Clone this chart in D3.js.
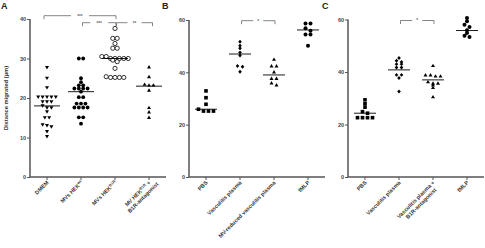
<!DOCTYPE html>
<html>
<head>
<meta charset="utf-8">
<script src="https://cdn.jsdelivr.net/npm/d3@7"></script>
<style>
  body { margin: 0; background: #fff; }
  text { font-family: "Liberation Sans", Arial, sans-serif; font-weight: bold; }
</style>
</head>
<body>
<script>
// ---- data ----
var catsA = ["DMEM", "MVs HEK|wt", "MVs HEK|B1R", "MV HEK|B1R| +\nB1R-antagonist"];
var dmem   = [27.7, 25, 22.6, 20.2, 20.2, 20.2, 20.2, 20.2, 19, 19, 19, 18, 17.5, 17.5, 16.5, 15, 15, 13.2, 13, 12.7, 11.5, 10.2];
var hekWt  = [30, 30, 25, 24, 23.2, 23.2, 22.4, 22.4, 22.4, 22.4, 21.6, 20.2, 20.2, 18.6, 18.6, 18.6, 17.6, 17.6, 17.6, 17.6, 15.1, 15.1, 13.5];
var hekB1r = [37.6, 35.1, 35.1, 33.8, 32.6, 32.6, 30.5, 30.5, 30, 30, 30, 30, 30, 29.6, 29.2, 27.5, 25.4, 25.2, 25.2, 25.2, 25.2];
var hekAnt = [27.9, 25.4, 23.3, 23.5, 23.3, 22, 17.6, 16.5, 15.1];
var medA   = [18, 21.6, 30, 23];

var catsB = ["PBS", "Vasculitis plasma", "MV-reduced vasculitis plasma", "fMLP"];
var pbsB   = [32.9, 30.3, 27.8, 25.2, 25.2, 25.2, 25.9];
var vascB  = [51.7, 50.2, 49.2, 47.6, 46.4, 42.4, 42.1, 40.2];
var mvRedB = [45, 42.5, 42.5, 40.2, 37.7, 37.7, 36, 35.2];
var fmlpB  = [58.7, 58.7, 56.8, 55.9, 54.5, 54.5, 50.2];
var medB   = [25.9, 47, 39, 56.2];

var catsC = ["PBS", "Vasculitis plasma", "Vasculitis plasma +\nB1R-antagonist", "fMLP"];
var pbsC   = [29.4, 27.9, 26.6, 24.9, 24.3, 22.6, 22.6, 22.6, 22.6];
var vascC  = [45.3, 44.3, 43.8, 43, 43, 41.7, 41.7, 38.9, 38.9, 37.7, 32.6];
var antC   = [42.5, 38.9, 38.9, 38.5, 38.5, 36.3, 35.8, 35.8, 35.1, 34.1, 30.6];
var fmlpC  = [60.6, 59.3, 58, 57.1, 55.9, 54.9, 53.8, 53.3];
var medC   = [24.3, 40.8, 37, 55.8];

var ticksA = [0, 10, 20, 30, 40];
var ticksBC = [0, 20, 40, 60];

// brackets: [from category, to category, level (0 = highest), label]
var brA = [[0, 2, 0, "***"], [1, 2, 1, "***"], [2, 3, 1, "**"]];
var brB = [[1, 2, 0, "*"]];
var brC = [[1, 2, 0, "*"]];

var W = 485, H = 248;
var svg = d3.select("body").append("svg").attr("width", W).attr("height", H);
var axisCol = "#555";

// marker shapes
function tri(down) {
  return function(g, r) {
    var p = down ? "M" + (-r) + "," + (-r*0.8) + "L" + r + "," + (-r*0.8) + "L0," + (r*0.9) + "Z"
                 : "M" + (-r) + "," + (r*0.8) + "L" + r + "," + (r*0.8) + "L0," + (-r*0.9) + "Z";
    g.append("path").attr("d", p).attr("fill", "#000");
  };
}
function dot(g, r) { g.append("circle").attr("r", r).attr("fill", "#000"); }
function ring(g, r) { g.append("circle").attr("r", r).attr("fill", "#fff").attr("stroke", "#000").attr("stroke-width", 0.8); }
function square(g, r) { g.append("rect").attr("x", -r).attr("y", -r).attr("width", 2*r).attr("height", 2*r).attr("fill", "#000"); }
function diamond(g, r) { g.append("path").attr("d", "M0," + (-r*1.1) + "L" + r + ",0L0," + (r*1.1) + "L" + (-r) + ",0Z").attr("fill", "#000"); }

// simple column-scatter layout: points close in value share a row and are spread sideways
function swarm(vals, y, gap, rowPx) {
  var s = vals.slice().sort(function(a, b) { return b - a; });
  var rows = [], cur = null;
  s.forEach(function(v) {
    if (cur && Math.abs(y(v) - y(cur[0])) < rowPx) cur.push(v);
    else { cur = [v]; rows.push(cur); }
  });
  var out = [];
  rows.forEach(function(r) {
    r.forEach(function(v, i) { out.push({v: v, dx: (i - (r.length - 1) / 2) * gap}); });
  });
  return out;
}

function panel(o) {
  var x = d3.scaleBand().domain(d3.range(o.cats.length)).range([o.x0, o.x1]);
  var y = d3.scaleLinear().domain([0, o.ymax]).range([177, o.ytop]);
  var g = svg.append("g");

  // axes
  var ya = g.append("g").attr("transform", "translate(" + o.x0 + ",0)")
    .call(d3.axisLeft(y).tickValues(o.ticks).tickSize(3).tickPadding(1));
  var xa = g.append("g").attr("transform", "translate(0,177)")
    .call(d3.axisBottom(x).tickSize(3).tickFormat(""));
  [ya, xa].forEach(function(a) {
    a.select(".domain").attr("stroke", axisCol).attr("stroke-width", 1.5);
    a.selectAll(".tick line").attr("stroke", axisCol).attr("stroke-width", 1);
    a.selectAll(".tick text").attr("fill", "#444").attr("font-size", 5.5).attr("font-family", null);
  });
  ya.select(".domain").attr("d", "M0," + y(o.ymax) + "V177");
  xa.select(".domain").attr("d", "M" + o.x0 + ",0H" + o.x1);

  // x labels, rotated
  o.cats.forEach(function(c, i) {
    var cx = x(i) + x.bandwidth() / 2;
    var lines = c.split("\n");
    var t = g.append("g").attr("transform", "translate(" + (cx + 2) + ",183) rotate(-45)");
    var w = [];
    lines.forEach(function(l, k) {
      var tx = t.append("text").attr("text-anchor", "end").attr("font-size", 5.5).attr("fill", "#333")
        .attr("y", k * 6.5);
      l.split("|").forEach(function(part, j) {
        var sp = tx.append("tspan").text(part);
        if (j === 1) sp.attr("font-size", 3.8).attr("dy", -2);
        if (j === 2) sp.attr("dy", 2);
      });
      w.push(tx);
    });
    if (w.length > 1) {
      var l0 = w[0].node().getComputedTextLength(), l1 = w[1].node().getComputedTextLength();
      w[1].attr("x", -(l0 - l1) / 2 + 1);
    }
  });

  // points
  o.series.forEach(function(vals, i) {
    var cx = x(i) + x.bandwidth() / 2;
    swarm(vals, y, o.gap, 2.6).forEach(function(p) {
      var m = g.append("g").attr("transform", "translate(" + (cx + p.dx) + "," + y(p.v) + ")");
      o.marks[i](m, o.r[i]);
    });
    g.append("line").attr("x1", cx - o.mw / 2).attr("x2", cx + o.mw / 2)
      .attr("y1", y(o.med[i])).attr("y2", y(o.med[i])).attr("stroke", "#000").attr("stroke-width", 0.9);
  });

  // significance brackets
  o.br.forEach(function(b) {
    var xa1 = x(b[0]) + x.bandwidth() / 2 + (b[0] === 0 ? -3 : 1.5);
    var xa2 = x(b[1]) + x.bandwidth() / 2 + (b[0] === 2 ? 3.5 : 1);
    var by = o.brY[b[2]], mid = (xa1 + xa2) / 2, gap = b[3].length * 2 + 3;
    var bg = g.append("g").attr("stroke", "#666").attr("stroke-width", 0.8).attr("fill", "none");
    bg.append("path").attr("d", "M" + xa1 + "," + (by + 3.5) + "V" + by + "H" + (mid - gap));
    bg.append("path").attr("d", "M" + (mid + gap) + "," + by + "H" + xa2 + "V" + (by + 3.5));
    g.append("text").attr("x", mid).attr("y", by + 1.8).attr("text-anchor", "middle")
      .attr("font-size", 4.5).attr("fill", "#666").text(b[3]);
  });

  svg.append("text").attr("x", o.lx).attr("y", 9).attr("font-size", 9).attr("fill", "#222").text(o.letter);
}

panel({cats: catsA, series: [dmem, hekWt, hekB1r, hekAnt], med: medA, ymax: 40, ytop: 19, ticks: ticksA,
  x0: 30, x1: 166, marks: [tri(true), dot, ring, tri(false)], r: [2, 1.9, 2.1, 2], gap: 4.4, mw: 26,
  br: brA, brY: [15.7, 22.7], letter: "A", lx: 1});
panel({cats: catsB, series: [pbsB, vascB, mvRedB, fmlpB], med: medB, ymax: 60, ytop: 20, ticks: ticksBC,
  x0: 189, x1: 325, marks: [square, diamond, tri(false), dot], r: [1.8, 1.8, 2, 2], gap: 5, mw: 22,
  br: brB, brY: [20.7], letter: "B", lx: 162});
panel({cats: catsC, series: [pbsC, vascC, antC, fmlpC], med: medC, ymax: 60, ytop: 19.5, ticks: ticksBC,
  x0: 348, x1: 484, marks: [square, diamond, tri(false), dot], r: [1.8, 1.8, 2, 2], gap: 5, mw: 22,
  br: brC, brY: [20.5], letter: "C", lx: 322});

// y axis title of panel A
svg.append("text").attr("transform", "translate(8,98) rotate(-90)").attr("text-anchor", "middle")
  .attr("font-size", 5.8).attr("fill", "#333").text("Distance migrated (\u03bcm)");
</script>
</body>
</html>
